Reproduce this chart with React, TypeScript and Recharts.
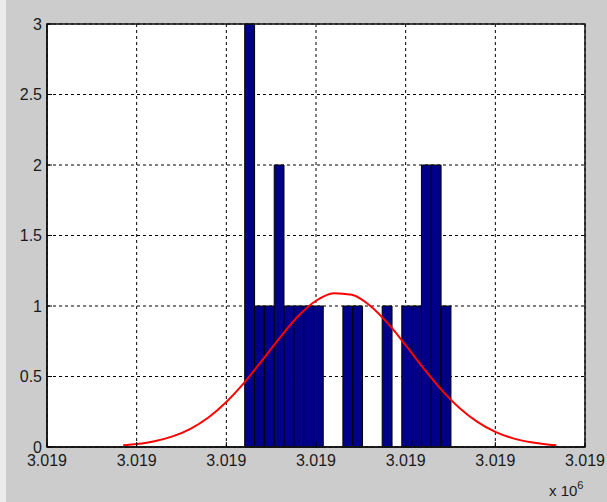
import {
  ComposedChart,
  Line,
  XAxis,
  YAxis,
  CartesianGrid,
  ReferenceArea,
} from 'recharts';

// histogram bins (x in axis units, each tick reads 3.019 x 10^6)
const binEdges = [
  2.205, 2.315, 2.424, 2.534, 2.643, 2.753, 2.862, 2.972, 3.081, 3.191, 3.3,
  3.41, 3.519, 3.629, 3.738, 3.848, 3.957, 4.067, 4.176, 4.286, 4.395, 4.505,
];
const binCounts = [3, 1, 1, 2, 1, 1, 1, 1, 0, 0, 1, 1, 0, 0, 1, 0, 1, 1, 2, 2, 1];

// fitted normal curve
const fitX = [
  0.85, 1.0, 1.2, 1.4, 1.6, 1.8, 2.0, 2.2, 2.4, 2.6, 2.8, 3.0, 3.2, 3.4, 3.6,
  3.8, 4.0, 4.2, 4.4, 4.6, 4.8, 5.0, 5.2, 5.4, 5.6, 5.68,
];
const fitY = [
  0.012, 0.021, 0.041, 0.075, 0.129, 0.209, 0.319, 0.456, 0.615, 0.778, 0.927,
  1.037, 1.091, 1.08, 1.004, 0.878, 0.722, 0.558, 0.405, 0.277, 0.178, 0.107,
  0.061, 0.033, 0.016, 0.012,
];

const xTicks = [0, 1, 2, 3, 4, 5, 6];
const yTicks = [0, 0.5, 1, 1.5, 2, 2.5, 3];
const xTickLabel = '3.019';

const curveData = fitX.map((x, i) => ({ x, y: fitY[i] }));
const bins = binCounts
  .map((count, i) => ({ from: binEdges[i], to: binEdges[i + 1], count }))
  .filter(b => b.count > 0);

const tickStyle = { fill: '#1a1a1a', fontSize: 16, fontFamily: '"Liberation Sans", Arial, sans-serif' };
const boxLine = { stroke: '#111111', strokeWidth: 1.5 };

const App = () => {
  return (
    <div
      style={{
        position: 'absolute',
        left: 0,
        top: 0,
        width: 607,
        height: 502,
        background: '#cccccc',
        overflow: 'hidden',
      }}
    >
      <div style={{ position: 'absolute', left: 0, top: 0, width: 6, height: 502, background: '#ececec' }} />
      <ComposedChart
        width={607}
        height={502}
        data={curveData}
        margin={{ top: 24, right: 22, bottom: 25, left: 0 }}
        style={{ position: 'absolute', left: 0, top: 0 }}
      >
        <CartesianGrid
          xAxisId="bottom"
          yAxisId="left"
          fill="#ffffff"
          fillOpacity={1}
          stroke="#000000"
          strokeDasharray="3 3"
        />
        <XAxis
          xAxisId="bottom"
          dataKey="x"
          type="number"
          domain={[0, 6]}
          ticks={xTicks}
          tickFormatter={() => xTickLabel}
          interval={0}
          height={30}
          axisLine={boxLine}
          tickLine={{ stroke: '#000000' }}
          tickSize={-5}
          tickMargin={13}
          tick={tickStyle}
        />
        <YAxis
          yAxisId="left"
          type="number"
          domain={[0, 3]}
          ticks={yTicks}
          interval={0}
          width={47}
          axisLine={boxLine}
          tickLine={{ stroke: '#000000' }}
          tickSize={-5}
          tickMargin={10}
          tick={tickStyle}
        />
        {bins.map((b, i) => (
          <ReferenceArea
            key={`bin-${i}`}
            xAxisId="bottom"
            yAxisId="left"
            x1={b.from}
            x2={b.to}
            y1={0}
            y2={b.count}
            fill="#000088"
            fillOpacity={1}
            stroke="#000000"
            strokeWidth={1}
          />
        ))}
        {/* axes box */}
        <ReferenceArea
          xAxisId="bottom"
          yAxisId="left"
          x1={0}
          x2={6}
          y1={0}
          y2={3}
          fill="none"
          stroke="#111111"
          strokeWidth={1.5}
        />
        <Line
          xAxisId="bottom"
          yAxisId="left"
          type="monotone"
          dataKey="y"
          stroke="#ff0000"
          strokeWidth={2}
          dot={false}
          isAnimationActive={false}
        />
      </ComposedChart>
      <div
        style={{
          position: 'absolute',
          left: 549,
          top: 482,
          fontFamily: '"Liberation Sans", Arial, sans-serif',
          fontSize: 15,
          color: '#1a1a1a',
          lineHeight: '18px',
          whiteSpace: 'nowrap',
        }}
      >
        x 10<sup style={{ fontSize: 11, verticalAlign: 'top', position: 'relative', top: -6 }}>6</sup>
      </div>
    </div>
  );
};

export default App;
